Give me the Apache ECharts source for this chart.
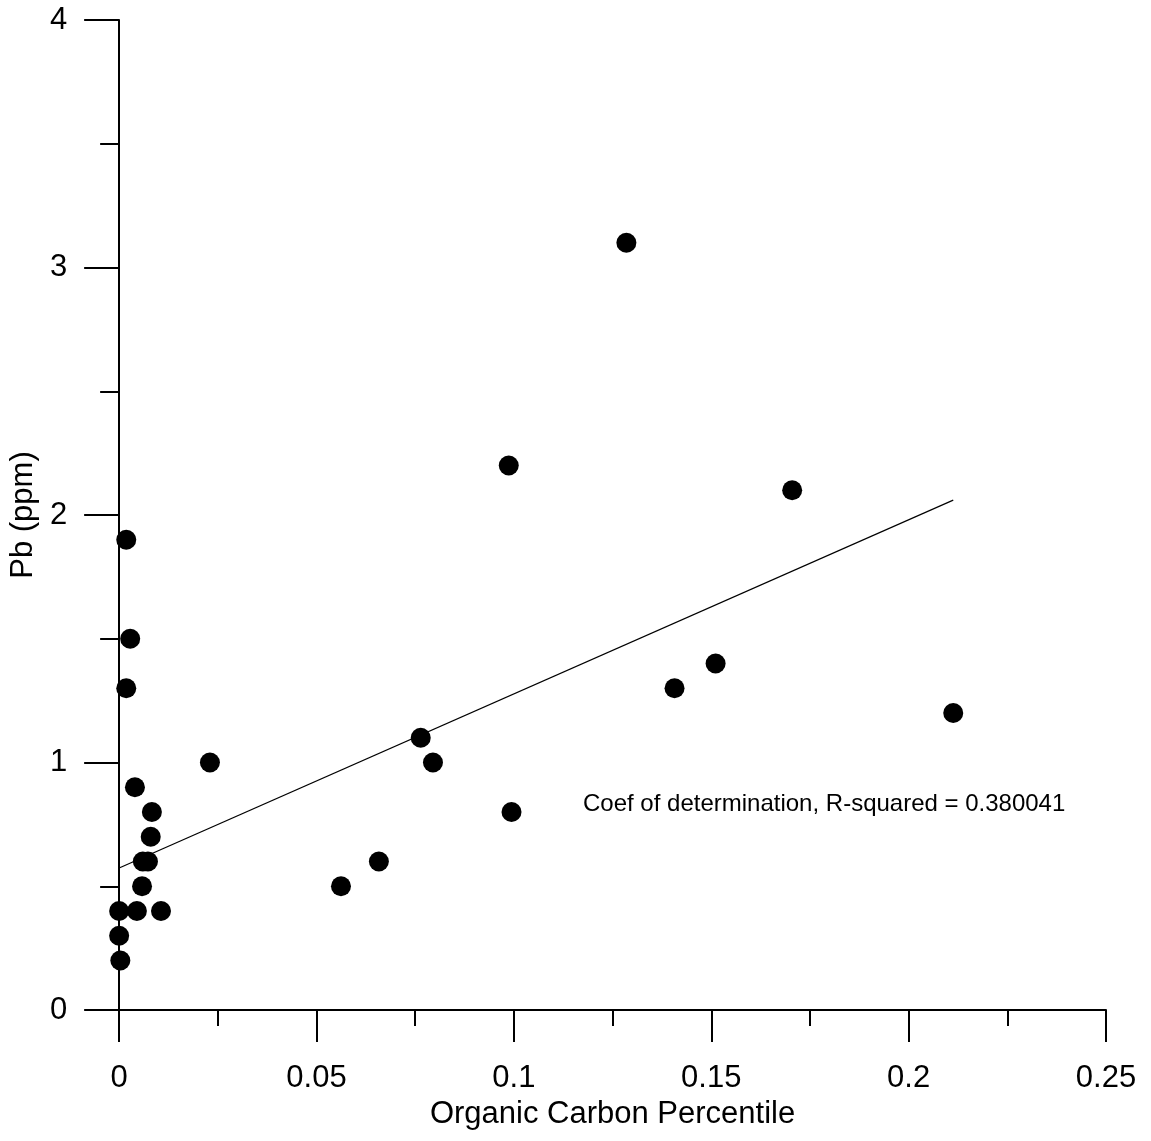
<!DOCTYPE html>
<html>
<head>
<meta charset="utf-8">
<script src="https://cdn.jsdelivr.net/npm/echarts@6/dist/echarts.min.js"></script>
<style>
html,body{margin:0;padding:0;background:#fff;}
#chart{width:1151px;height:1141px;}
</style>
</head>
<body>
<div id="chart"></div>
<script>
// Organic carbon percentile (x) and Pb ppm (y) for each sample
var carbonValues = [0.0018, 0.0028, 0.0018, 0.0040, 0.0083, 0.0080, 0.0060, 0.0073, 0.0058, 0.0045, 0.0106, 0.0000, 0.0000, 0.0003,
                    0.0230, 0.0562, 0.0658, 0.0764, 0.0795, 0.0987, 0.0994, 0.1285, 0.1407, 0.1511, 0.1705, 0.2113];
var leadValues   = [1.9, 1.5, 1.3, 0.9, 0.8, 0.7, 0.6, 0.6, 0.5, 0.4, 0.4, 0.4, 0.3, 0.2,
                    1.0, 0.5, 0.6, 1.1, 1.0, 2.2, 0.8, 3.1, 1.3, 1.4, 2.1, 1.2];
// Fitted regression line endpoints
var fitX = [0, 0.2113];
var fitY = [0.574, 2.06];
var annotationText = 'Coef of determination, R-squared = 0.380041';

var points = carbonValues.map(function (x, i) { return [x, leadValues[i]]; });
var fitLine = fitX.map(function (x, i) { return [x, fitY[i]]; });

var FONT = 'Liberation Sans, Arial, sans-serif';
var chart = echarts.init(document.getElementById('chart'), null, {renderer: 'canvas'});
chart.setOption({
  animation: false,
  backgroundColor: '#ffffff',
  grid: {left: 118, right: 45, top: 20, bottom: 131, containLabel: false},
  xAxis: {
    type: 'value', min: 0, max: 0.25, interval: 0.05,
    name: 'Organic Carbon Percentile', nameLocation: 'middle', nameGap: 89,
    nameTextStyle: {fontFamily: FONT, fontSize: 31, color: '#000'},
    axisLine: {show: true, onZero: false, lineStyle: {color: '#000', width: 2}},
    axisTick: {show: true, inside: false, length: 32, lineStyle: {color: '#000', width: 2}},
    minorTick: {show: true, splitNumber: 2, length: 16, lineStyle: {color: '#000', width: 2}},
    axisLabel: {fontFamily: FONT, fontSize: 31, color: '#000', margin: 53},
    splitLine: {show: false}, minorSplitLine: {show: false}
  },
  yAxis: {
    type: 'value', min: 0, max: 4, interval: 1,
    name: 'Pb (ppm)', nameLocation: 'middle', nameGap: 80, nameRotate: 90,
    nameTextStyle: {fontFamily: FONT, fontSize: 31, color: '#000'},
    axisLine: {show: true, onZero: false, lineStyle: {color: '#000', width: 2}},
    axisTick: {show: true, inside: false, length: 35, lineStyle: {color: '#000', width: 2}},
    minorTick: {show: true, splitNumber: 2, length: 19, lineStyle: {color: '#000', width: 2}},
    axisLabel: {fontFamily: FONT, fontSize: 31, color: '#000', margin: 52},
    splitLine: {show: false}, minorSplitLine: {show: false}
  },
  series: [
    {
      type: 'line', data: fitLine, symbol: 'none', silent: true,
      lineStyle: {color: '#000', width: 1.2}, z: 1
    },
    {
      type: 'scatter', data: points, symbol: 'circle', symbolSize: 20,
      itemStyle: {color: '#000', opacity: 1}, z: 2
    }
  ],
  graphic: [{
    type: 'text', left: 583, top: 792,
    style: {text: annotationText, font: '24px ' + FONT, fill: '#000'}
  }]
});
</script>
</body>
</html>
